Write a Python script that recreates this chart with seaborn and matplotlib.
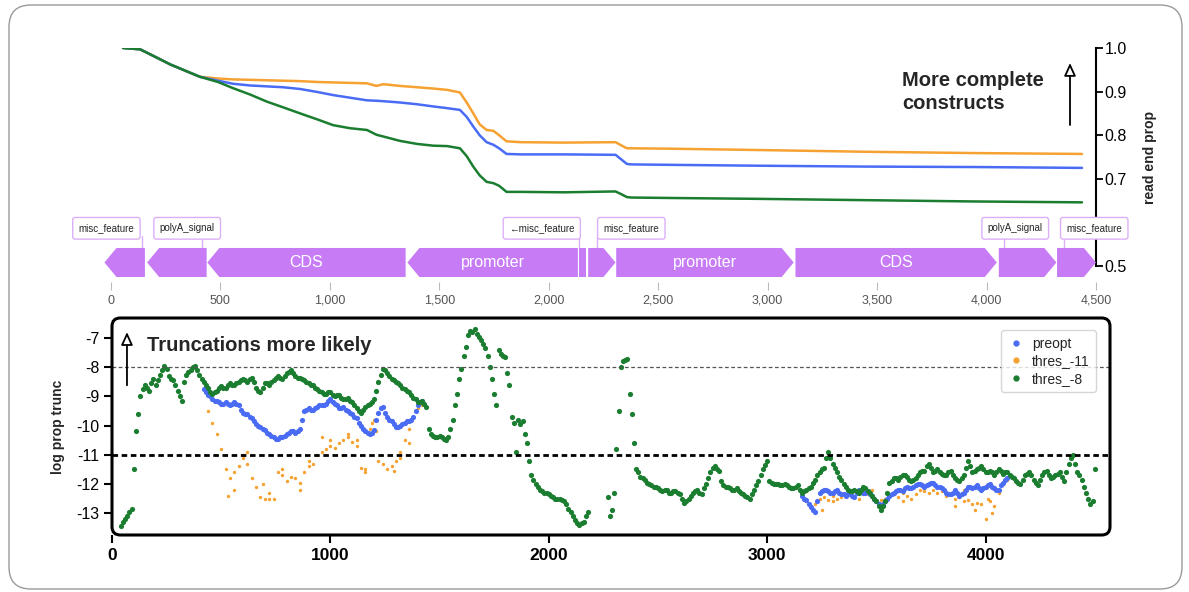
import numpy as np
import pandas as pd
import matplotlib
matplotlib.use("Agg")
import matplotlib.pyplot as plt
import seaborn as sns
from matplotlib.patches import Polygon, FancyBboxPatch
from matplotlib.lines import Line2D
from matplotlib.ticker import FuncFormatter

# --- top panel: read end proportion along the construct ---
top_pos = [55, 133, 193, 272, 406, 489, 557, 637, 712, 786,
           864, 944, 1015, 1092, 1169, 1213, 1244, 1320, 1398, 1472,
           1536, 1594, 1625, 1655, 1684, 1716, 1747, 1773, 1807, 1872,
           2070, 2305, 2330, 2357, 2380, 2560, 2958, 3450, 3946, 4436]
top_preopt = [1.0, 0.997, 0.982, 0.962, 0.934, 0.925, 0.918, 0.914, 0.912, 0.910,
              0.906, 0.899, 0.892, 0.886, 0.880, 0.879, 0.878, 0.875, 0.871, 0.866,
              0.862, 0.858, 0.842, 0.820, 0.800, 0.784, 0.778, 0.770, 0.757, 0.756,
              0.756, 0.755, 0.745, 0.734, 0.733, 0.732, 0.730, 0.728, 0.727, 0.725]
top_thres11 = [1.0, 0.997, 0.982, 0.962, 0.934, 0.930, 0.928, 0.927, 0.926, 0.925,
               0.924, 0.922, 0.921, 0.920, 0.919, 0.913, 0.917, 0.913, 0.910, 0.907,
               0.904, 0.898, 0.875, 0.850, 0.825, 0.812, 0.810, 0.800, 0.786, 0.784,
               0.783, 0.784, 0.777, 0.770, 0.770, 0.769, 0.766, 0.762, 0.759, 0.757]
top_thres8 = [1.0, 0.997, 0.982, 0.962, 0.934, 0.922, 0.908, 0.893, 0.877, 0.864,
              0.850, 0.836, 0.823, 0.816, 0.812, 0.801, 0.797, 0.787, 0.780, 0.776,
              0.775, 0.770, 0.752, 0.728, 0.708, 0.693, 0.690, 0.684, 0.670, 0.670,
              0.669, 0.671, 0.665, 0.658, 0.657, 0.656, 0.654, 0.651, 0.648, 0.646]

# --- feature map ---
feat_start = [-30, 165, 440, 1354, 2140, 2180, 2308, 3127, 4056, 4322]
feat_end = [155, 437, 1346, 2133, 2168, 2305, 3119, 4047, 4319, 4500]
feat_strand = [-1, -1, -1, -1, -1, 1, 1, 1, 1, 1]
feat_name = ["", "", "CDS", "promoter", "", "", "promoter", "CDS", "", ""]

lab_text = ["misc_feature", "polyA_signal", "\u2190misc_feature",
            "misc_feature", "polyA_signal", "misc_feature"]
lab_x = [-21, 348, 1968, 2377, 4131, 4492]
lab_anchor = [141, 416, 2137, 2220, 4081, 4356]

# --- bottom panel: log prop trunc (windows every 20 nt, two offsets) ---
thres8_start = 40
thres8_vals = [
    -13.45, -13.2, -12.95, -11.5, -9.6, -8.75, -8.7, -8.55, -8.6, -8.25,
    -7.95, -8.3, -8.45, -8.8, -9.15, -8.25, -8.1, -7.95, -8.25, -8.5,
    -8.7, -8.9, -8.8, -8.65, -8.7, -8.55, -8.6, -8.5, -8.4, -8.5,
    -8.35, -8.7, -8.85, -8.55, -8.6, -8.45, -8.3, -8.4, -8.2, -8.1,
    -8.3, -8.35, -8.45, -8.55, -8.6, -8.75, -8.85, -8.9, -8.85, -9.0,
    -8.95, -9.1, -9.05, -9.2, -9.4, -9.55, -9.35, -9.25, -9.1, -8.5,
    -8.05, -8.2, -8.4, -8.5, -8.6, -8.75, -8.85, -9.05, -9.2, -9.15,
    -9.35, -10.3, -10.4, -10.35, -10.45, -10.4, -9.8, -8.9, -8.05, -7.3,
    -6.75, -6.7, -6.95, -7.2, -7.6, -8.4, -9.3, -7.55, -7.65, -8.6,
    -9.9, -9.8, -9.85, -10.6, -11.7, -12.0, -12.2, -12.3, -12.35, -12.45,
    -12.5, -12.55, -12.7, -12.95, -13.25, -13.4, -13.3, -12.95, np.nan, np.nan,
    np.nan, np.nan, -13.1, -12.3, -9.5, -7.8, -7.7, -9.6, -11.5, -11.75,
    -11.85, -12.0, -12.1, -12.15, -12.25, -12.2, -12.3, -12.25, -12.35, -12.65,
    -12.5, -12.3, -12.2, -12.35, -12.0, -11.6, -11.4, -11.55, -12.05, -12.1,
    -12.2, -12.15, -12.3, -12.4, -12.5, -12.2, -11.9, -11.5, -11.2, -11.95,
    -12.0, -12.05, -12.0, -12.1, -12.15, -12.05, -12.3, -12.2, -12.1, -11.85,
    -11.6, -11.45, -10.9, -11.3, -11.6, -11.85, -12.1, -12.25, -12.2, -12.3,
    -12.1, -12.25, -12.4, -12.6, -12.9, -12.6, -11.95, -11.8, -11.85, -11.7,
    -11.75, -11.9, -11.8, -11.6, -11.55, -11.3, -11.6, -11.5, -11.65, -11.7,
    -11.55, -11.8, -11.9, -11.7, -11.2, -11.6, -11.5, -11.4, -11.6, -11.55,
    -11.7, -11.5, -11.65, -11.6, -11.75, -11.9, -12.0, -11.7, -11.6, -11.85,
    -12.05, -11.7, -11.55, -11.8, -11.7, -11.6, -11.9, -11.3, -11.0, -11.6,
    -11.85, -12.3, -12.7, -11.5]
thres8_off_start = 50
thres8_off = [
    -13.3, -13.1, -12.85, -10.2, -9.0, -8.6, -8.8, -8.4, -8.45, -8.1,
    -8.05, -8.4, -8.6, -9.0, -8.5, -8.15, -8.0, -8.1, -8.4, -8.6,
    -8.85, -8.85, -8.7, -8.7, -8.6, -8.6, -8.55, -8.45, -8.45, -8.4,
    -8.5, -8.8, -8.7, -8.55, -8.5, -8.35, -8.35, -8.3, -8.15, -8.2,
    -8.35, -8.4, -8.5, -8.6, -8.7, -8.8, -8.9, -8.85, -8.95, -8.95,
    -9.05, -9.1, -9.15, -9.3, -9.5, -9.45, -9.3, -9.2, -8.8, -8.25,
    -8.1, -8.3, -8.45, -8.55, -8.7, -8.8, -8.95, -9.1, -9.2, -9.25,
    -10.1, -10.35, -10.4, -10.4, -10.5, -10.1, -9.3, -8.4, -7.6, -6.9,
    -6.8, -6.85, -7.05, -7.35, -8.0, -8.9, -7.4, -7.6, -8.2, -9.7,
    -10.9, -9.95, -10.3, -11.2, -11.85, -12.1, -12.25, -12.3, -12.4, -12.5,
    -12.5, -12.6, -12.85, -13.1, -13.35, -13.35, -13.1, np.nan, np.nan, np.nan,
    np.nan, -12.45, -12.9, -10.8, -8.0, -7.75, -8.9, -10.6, -11.6, -11.8,
    -11.95, -12.05, -12.1, -12.2, -12.2, -12.3, -12.25, -12.3, -12.5, -12.6,
    -12.4, -12.25, -12.3, -12.15, -11.8, -11.45, -11.5, -11.9, -12.1, -12.15,
    -12.2, -12.25, -12.35, -12.45, -12.35, -12.05, -11.7, -11.35, -11.9, -12.0,
    -12.0, -12.05, -12.05, -12.15, -12.1, -12.2, -12.25, -12.15, -11.95, -11.7,
    -11.5, -11.1, -11.1, -11.45, -11.75, -12.0, -12.2, -12.25, -12.25, -12.2,
    -12.15, -12.3, -12.5, -12.75, -12.75, -12.3, -11.9, -11.8, -11.75, -11.7,
    -11.85, -11.85, -11.7, -11.55, -11.4, -11.45, -11.55, -11.6, -11.7, -11.6,
    -11.7, -11.85, -11.8, -11.45, -11.4, -11.55, -11.45, -11.5, -11.6, -11.6,
    -11.6, -11.55, -11.6, -11.7, -11.8, -11.95, -11.85, -11.65, -11.7, -11.95,
    -11.85, -11.6, -11.7, -11.75, -11.65, -11.75, -11.6, -11.1, -11.3, -11.7,
    -12.1, -12.5, -12.6]

preopt_a_start = 420
preopt_a = [-8.75, -8.95, -9.1, -9.15, -9.25, -9.2, -9.3, -9.2, -9.3, -9.55,
            -9.6, -9.75, -9.95, -10.05, -10.15, -10.3, -10.4, -10.45, -10.4, -10.3,
            -10.2, -10.25, -10.1, -9.5, -9.4, -9.45, -9.35, -9.3, -9.25, -9.1,
            -9.25, -9.4, -9.35, -9.5, -9.6, -9.75, -10.0, -10.2, -10.3, -10.15,
            -9.55, -9.35, -9.7, -9.85, -10.05, -10.0, -9.9, -9.85, -9.7, -9.3,
            -9.15]
preopt_a_off_start = 430
preopt_a_off = [-8.85, -9.0, -9.15, -9.2, -9.25, -9.25, -9.25, -9.25, -9.45, -9.6,
                -9.7, -9.85, -10.0, -10.1, -10.25, -10.35, -10.45, -10.4, -10.35, -10.25,
                -10.2, -10.2, -9.8, -9.45, -9.45, -9.4, -9.3, -9.3, -9.15, -9.2,
                -9.3, -9.4, -9.45, -9.55, -9.7, -9.9, -10.1, -10.25, -10.25, -9.8,
                -9.4, -9.55, -9.8, -9.95, -10.05, -9.95, -9.85, -9.8, -9.5, -9.2]
preopt_b_start = 3160
preopt_b = [-12.4, -12.55, -12.8, -12.95, -12.3, -12.2, -12.25, -12.3, -12.2, -12.35,
            -12.4, -12.3, -12.45, -12.2, -12.3, -12.25, -12.4, -12.6, -12.75, -12.6,
            -12.4, -12.3, -12.2, -12.25, -12.1, -12.15, -12.05, -12.0, -12.1, -12.0,
            -11.95, -12.1, -12.15, -12.3, -12.35, -12.2, -12.4, -12.3, -12.1, -12.15,
            -12.05, -12.2, -12.1, -12.0, -12.15, -12.2, -11.95, -11.8]
preopt_b_off_start = 3170
preopt_b_off = [-12.5, -12.7, -12.9, -12.6, -12.25, -12.2, -12.3, -12.25, -12.3, -12.35,
                -12.35, -12.4, -12.3, -12.25, -12.3, -12.35, -12.5, -12.7, -12.7, -12.5,
                -12.35, -12.25, -12.2, -12.15, -12.15, -12.1, -12.0, -12.05, -12.05, -11.95,
                -12.05, -12.1, -12.2, -12.35, -12.3, -12.3, -12.35, -12.2, -12.1, -12.1,
                -12.15, -12.15, -12.05, -12.1, -12.2, -12.05, -11.85]

thres11_a_start = 440
thres11_a = [-9.5, -9.9, -10.3, -10.8, -11.5, -11.8, -11.6, -11.4, -11.1, -11.3,
             -11.8, -12.1, -12.45, -12.5, -12.5, -12.5, -11.6, -11.7, -11.9, -11.75,
             -11.8, -11.95, -11.6, -11.4, -11.3, -11.0, -10.9, -10.8, -10.7, -10.75,
             -10.6, -10.5, -10.4, -10.55, -10.7, -11.45, -11.5, -10.1, -9.8, -11.2,
             -11.3, -11.5, -11.4, -11.2, -10.9, -10.5, -10.1, -9.7, -9.4, -9.3]
thres11_b_start = 3180
thres11_b = [-12.6, -12.75, -12.7, -12.5, -12.45, -12.55, -12.4, -12.5, -12.45, -12.35,
             -12.3, -12.4, -12.5, -12.25, -12.35, -12.45, -12.6, -12.55, -12.5, -12.4,
             -12.35, -12.45, -12.3, -12.4, -12.5, -12.35, -12.2, -12.25, -12.3, -12.2,
             -12.3, -12.25, -12.4, -12.35, -12.5, -12.45, -12.6, -12.55, -12.7, -12.65,
             -12.7, -13.2, -12.6, -12.75, -12.3, -12.0, -11.85]
thres11_extra_pos = [530, 560, 600, 620, 690, 720, 780, 860, 900, 960, 1000, 1060,
                     1080, 1120, 1160, 1190, 1210, 1290, 1320, 1360,
                     3250, 3300, 3480, 3620, 3860, 3900, 3950, 4010, 4030]
thres11_extra_val = [-12.4, -12.2, -11.0, -10.9, -12.0, -12.3, -11.5, -12.2, -11.2, -10.4,
                     -10.5, -11.0, -10.3, -10.5, -11.6, -9.9, -10.2, -11.55, -11.1, -10.6,
                     -12.9, -12.6, -12.2, -12.6, -12.75, -12.2, -12.9, -12.5, -13.0]

colors = {"preopt": "#4a6cf5", "thres_-11": "#f6a232", "thres_-8": "#1b7d2f"}
purple = "#c77cf6"
purple_edge = "#dcb0f8"

W, H = 1189, 592


def grid(start, vals):
    return np.arange(start, start + 20 * len(vals), 20)


sns.set_theme(style="white")
plt.rcParams["font.family"] = ["Liberation Sans", "DejaVu Sans"]

fig = plt.figure(figsize=(W / 100, H / 100), dpi=100)

# outer rounded frame
outer = FancyBboxPatch((9 / W, 3 / H), 1173 / W, 584 / H,
                       boxstyle="round,pad=0,rounding_size=0.0185",
                       mutation_aspect=W / H, transform=fig.transFigure,
                       fc="none", ec="#9a9a9a", lw=1.0)
fig.add_artist(outer)

# ---------- top line panel ----------
ax_top = fig.add_axes([111 / W, 1 - 266 / H, 985 / W, 218 / H])
n = len(top_pos)
top_df = pd.DataFrame({
    "pos": top_pos * 3,
    "prop": top_thres11 + top_preopt + top_thres8,
    "run": ["thres_-11"] * n + ["preopt"] * n + ["thres_-8"] * n,
})
sns.lineplot(data=top_df, x="pos", y="prop", hue="run",
             hue_order=["thres_-11", "preopt", "thres_-8"], palette=colors,
             estimator=None, linewidth=1.8, legend=False, ax=ax_top)
ax_top.set_xlim(0, 4500)
ax_top.set_ylim(0.5, 1.0)
ax_top.patch.set_alpha(0)
for s in ["left", "top", "bottom"]:
    ax_top.spines[s].set_visible(False)
ax_top.spines["right"].set_color("black")
ax_top.spines["right"].set_linewidth(1.5)
ax_top.yaxis.tick_right()
ax_top.yaxis.set_label_position("right")
ax_top.set_yticks([0.5, 0.6, 0.7, 0.8, 0.9, 1.0])
# 0.6 sits under the feature label box in the original
ax_top.set_yticklabels(["0.5", "", "0.7", "0.8", "0.9", "1.0"])
ax_top.tick_params(axis="y", right=True, left=False, length=5, width=1.3,
                   labelsize=11.5, pad=1, colors="black")
ax_top.set_xticks([])
ax_top.set_xlabel("")
ax_top.set_ylabel("read end prop", fontsize=10, fontweight="bold", labelpad=12)

fig.text(902 / W, 1 - 92 / H, "More complete\nconstructs", fontsize=14.5,
         fontweight="bold", ha="left", va="center", linespacing=1.3)
ax_top.annotate("", xy=(1070 / W, 1 - 63 / H), xytext=(1070 / W, 1 - 125 / H),
                xycoords="figure fraction", textcoords="figure fraction",
                arrowprops=dict(arrowstyle="-|>,head_width=0.25,head_length=0.55",
                                mutation_scale=14, fc="white", ec="black", lw=1.3,
                                shrinkA=0, shrinkB=0))

# ---------- feature map ----------
ax_f = fig.add_axes([111 / W, 1 - 282 / H, 985 / W, 82 / H])
ax_f.set_zorder(3)
ax_f.patch.set_alpha(0)
ax_f.set_xlim(0, 4500)
ax_f.set_ylim(0, 1)
for s in ax_f.spines.values():
    s.set_visible(False)
ax_f.set_yticks([])
ax_f.set_xticks(range(0, 4501, 500))
ax_f.xaxis.set_major_formatter(FuncFormatter(lambda v, p: f"{int(v):,}"))
ax_f.tick_params(axis="x", bottom=True, length=6, width=0.8, color="#bbbbbb",
                 labelsize=9, labelcolor="#555555", pad=3)

yb, yt = 0.061, 0.415
ym = (yb + yt) / 2
for s, e, strand, name in zip(feat_start, feat_end, feat_strand, feat_name):
    if e - s < 60:
        pts = [(s, yb), (e, yb), (e, yt), (s, yt)]
    elif strand < 0:
        pts = [(s, ym), (s + 55, yt), (e, yt), (e, yb), (s + 55, yb)]
    else:
        pts = [(s, yb), (e - 55, yb), (e, ym), (e - 55, yt), (s, yt)]
    ax_f.add_patch(Polygon(pts, closed=True, fc=purple, ec="none",
                           clip_on=False, zorder=2))
    if name:
        ax_f.text((s + e) / 2, ym, name, color="white", fontsize=11.5,
                  ha="center", va="center", zorder=3)

for txt, lx, anc in zip(lab_text, lab_x, lab_anchor):
    ax_f.plot([anc, anc], [yt, 0.56], color=purple_edge, lw=1.0,
              clip_on=False, zorder=1)
    ax_f.text(lx, 0.655, txt, fontsize=7, ha="center", va="center", zorder=4,
              bbox=dict(boxstyle="round,pad=0.6,rounding_size=0.25", fc="white",
                        ec=purple_edge, lw=1.0))

# ---------- bottom scatter panel ----------
ax_b = fig.add_axes([112 / W, 1 - 535 / H, 998 / W, 217 / H])
ax_b.patch.set_alpha(0)

orange_x = np.concatenate([grid(thres11_a_start, thres11_a),
                           grid(thres11_b_start, thres11_b), thres11_extra_pos])
orange_y = np.concatenate([thres11_a, thres11_b, thres11_extra_val])
blue_x = np.concatenate([grid(preopt_a_start, preopt_a),
                         grid(preopt_a_off_start, preopt_a_off),
                         grid(preopt_b_start, preopt_b),
                         grid(preopt_b_off_start, preopt_b_off)])
blue_y = np.concatenate([preopt_a, preopt_a_off, preopt_b, preopt_b_off])
green_x = np.concatenate([grid(thres8_start, thres8_vals),
                          grid(thres8_off_start, thres8_off)])
green_y = np.concatenate([thres8_vals, thres8_off])

sns.scatterplot(x=orange_x, y=orange_y, color=colors["thres_-11"], s=6,
                linewidth=0, ax=ax_b)
sns.scatterplot(x=blue_x, y=blue_y, color=colors["preopt"], s=14,
                linewidth=0, ax=ax_b)
sns.scatterplot(x=green_x, y=green_y, color=colors["thres_-8"], s=14,
                linewidth=0, ax=ax_b)

ax_b.axhline(-8, color="#555555", lw=0.9, ls=(0, (3, 2)), zorder=3)
ax_b.axhline(-11, color="black", lw=2.0, ls=(0, (2, 1.3)), zorder=3)

ax_b.set_xlim(0, 4570)
ax_b.set_ylim(-13.75, -6.31)
ax_b.set_xticks([0, 1000, 2000, 3000, 4000])
ax_b.set_xticklabels(["0", "1000", "2000", "3000", "4000"], fontweight="bold")
ax_b.set_yticks([-13, -12, -11, -10, -9, -8, -7])
ax_b.set_yticklabels(["-13", "-12", "-11", "-10", "-9", "-8", "-7"])
ax_b.tick_params(axis="x", bottom=True, length=6, width=1.5, labelsize=12.5,
                 pad=3, colors="black")
ax_b.tick_params(axis="y", left=True, length=6, width=1.5, labelsize=11.5,
                 pad=3, colors="black")
for s in ax_b.spines.values():
    s.set_visible(False)
ax_b.set_ylabel("log prop trunc", fontsize=10, fontweight="bold", labelpad=8)
ax_b.set_xlabel("")

frame = FancyBboxPatch((112 / W, 1 - 535 / H), 998 / W, 217 / H,
                       boxstyle="round,pad=0,rounding_size=0.007",
                       mutation_aspect=W / H, transform=fig.transFigure,
                       fc="none", ec="black", lw=2.2, zorder=5)
fig.add_artist(frame)

handles = [Line2D([], [], marker="o", ls="", color=colors[k], markersize=3.5)
           for k in ["preopt", "thres_-11", "thres_-8"]]
ax_b.legend(handles, ["preopt", "thres_-11", "thres_-8"], loc="upper right",
            bbox_to_anchor=(0.993, 0.975), fontsize=10, frameon=True,
            framealpha=0.8, edgecolor="#cccccc", handletextpad=0.6,
            borderpad=0.45, labelspacing=0.25, handlelength=1.2)

ax_b.annotate("", xy=(0.015, 0.935), xytext=(0.015, 0.69), xycoords="axes fraction",
              arrowprops=dict(arrowstyle="-|>,head_width=0.25,head_length=0.55",
                              mutation_scale=14, fc="white", ec="black", lw=1.3,
                              shrinkA=0, shrinkB=0))
ax_b.text(0.035, 0.871, "Truncations more likely", transform=ax_b.transAxes,
          fontsize=14.5, fontweight="bold", ha="left", va="center")

fig.savefig("out.png", dpi=100)
